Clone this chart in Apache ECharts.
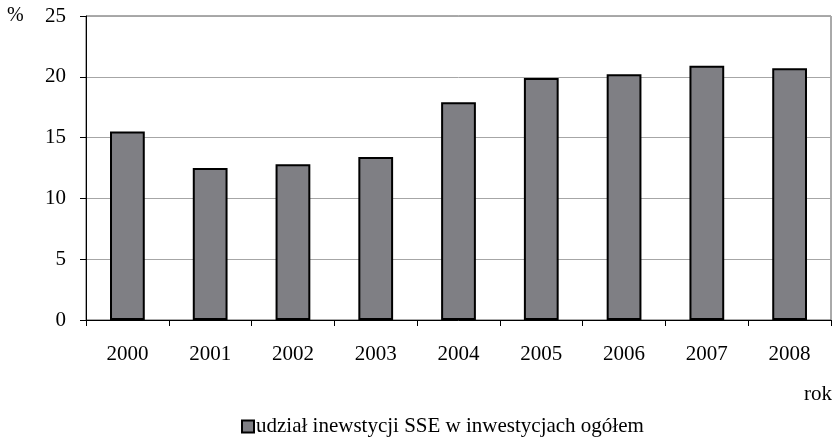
<!DOCTYPE html>
<html>
<head>
<meta charset="utf-8">
<script src="https://cdn.jsdelivr.net/npm/echarts@6/dist/echarts.min.js"></script>
<style>
  html, body { margin: 0; padding: 0; background: #fff; }
  #chart { width: 838px; height: 444px; }
</style>
</head>
<body>
<div id="chart"></div>
<script>
var years = ['2000', '2001', '2002', '2003', '2004', '2005', '2006', '2007', '2008'];
var share = [15.5, 12.5, 12.8, 13.4, 17.9, 19.9, 20.2, 20.9, 20.7];
var seriesName = 'udział inewstycji SSE w inwestycjach ogółem';

var font = '"Liberation Serif", "DejaVu Serif", serif';
var chartDom = document.getElementById('chart');
var myChart = echarts.init(chartDom);
var option;

option = {
  animation: false,
  textStyle: { fontFamily: font },
  grid: {
    left: 86,
    right: 7,
    top: 16,
    bottom: 124,
    show: true,
    borderColor: '#555',
    borderWidth: 1
  },
  legend: {
    bottom: 2,
    left: 236,
    icon: 'rect',
    itemWidth: 12,
    itemHeight: 12,
    itemGap: 4,
    textStyle: { fontFamily: font, fontSize: 21, color: '#000', padding: [0, 0, 0, -3] },
    data: [seriesName]
  },
  graphic: [
    { type: 'text', left: 7, top: 6, style: { text: '%', font: '20px ' + font, fill: '#000' } },
    { type: 'text', right: 6, top: 384, style: { text: 'rok', font: '21px ' + font, fill: '#000' } }
  ],
  xAxis: {
    type: 'category',
    data: years,
    boundaryGap: true,
    axisLine: { lineStyle: { color: '#000', width: 1 } },
    axisTick: { show: true, length: 6, inside: false, lineStyle: { color: '#000' } },
    axisLabel: { fontFamily: font, fontSize: 21, color: '#000', margin: 24 }
  },
  yAxis: {
    type: 'value',
    min: 0,
    max: 25,
    interval: 5,
    axisLine: { show: true, lineStyle: { color: '#000', width: 1 } },
    axisTick: { show: true, length: 6, lineStyle: { color: '#000' } },
    axisLabel: { fontFamily: font, fontSize: 21, color: '#000', margin: 20 },
    splitLine: { lineStyle: { color: '#a6a6a6', width: 1 } }
  },
  series: [
    {
      name: seriesName,
      type: 'bar',
      data: share,
      barWidth: '42%',
      itemStyle: { color: '#7f7f84', borderColor: '#000', borderWidth: 2 }
    }
  ]
};

myChart.setOption(option);
</script>
</body>
</html>
